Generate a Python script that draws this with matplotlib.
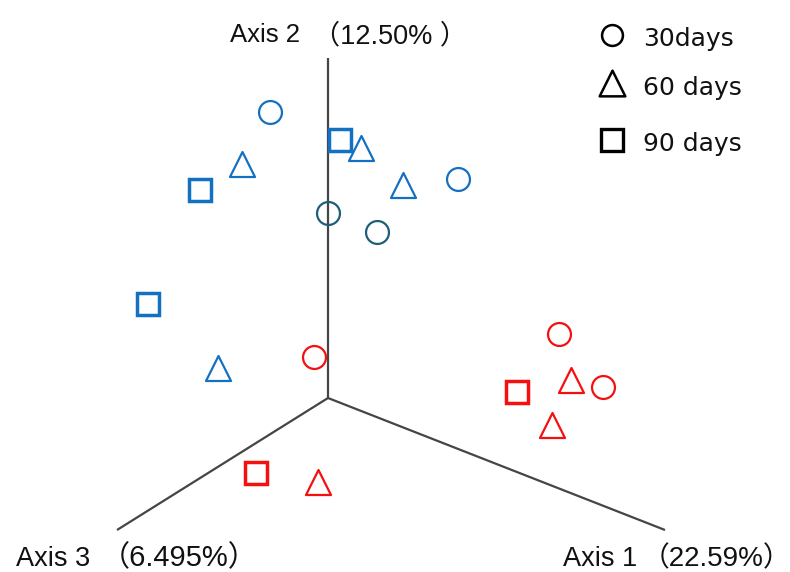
import matplotlib
matplotlib.use("Agg")
import matplotlib.pyplot as plt
from matplotlib.path import Path

# Projected ordination scores (screen-plane projection of Axis 1/2/3, origin at 0,0)
circle_blue_x = [-58, 130]
circle_blue_y = [286, 219]
circle_teal_x = [0, 49]
circle_teal_y = [185, 166]
circle_red_x = [-14, 231, 275]
circle_red_y = [41, 64, 11]

triangle_blue_x = [33, -86, 75, -110]
triangle_blue_y = [250, 234, 213, 30]
triangle_red_x = [243, 224, -10]
triangle_red_y = [18, -27, -84]

square_blue_x = [12, -128, -180]
square_blue_y = [258, 208, 94]
square_red_x = [189, -72]
square_red_y = [6, -75]

# Axis names, explained variance and end points in the projected plane
axis_names = ["Axis 1", "Axis 2", "Axis 3"]
axis_variance = ["22.59%", "12.50%", "6.495%"]
axis_end_x = [337, 0, -211]
axis_end_y = [-132, 340, -132]

legend_labels = ["30days", "60 days", "90 days"]

BLUE = "#1470c0"
TEAL = "#1d5f78"
RED = "#f50f0f"
AXIS_GREY = "#454545"
TEXT = "#111111"

W, H = 790, 572

def fx(px):
    return px / W

def fy(py):
    return 1 - py / H

tri = Path([(-0.5, -0.5), (0.5, -0.5), (0.0, 0.5), (-0.5, -0.5)],
           [Path.MOVETO, Path.LINETO, Path.LINETO, Path.CLOSEPOLY])

fig = plt.figure(figsize=(7.9, 5.72), dpi=100)
ax = fig.add_axes([0, 0, 1, 1])
ax.set_xlim(-328, 462)
ax.set_ylim(-174, 398)
ax.axis("off")

for ex, ey in zip(axis_end_x, axis_end_y):
    ax.plot([0, ex], [0, ey], color=AXIS_GREY, lw=1.6, solid_capstyle="butt", zorder=1)

def draw(xs, ys, marker, color, ms, mew):
    ax.plot(xs, ys, linestyle="none", marker=marker, ms=ms, mfc="none",
            mec=color, mew=mew, zorder=3)

draw(circle_blue_x, circle_blue_y, "o", BLUE, 16.5, 1.6)
draw(circle_teal_x, circle_teal_y, "o", TEAL, 16.5, 1.6)
draw(circle_red_x, circle_red_y, "o", RED, 16.5, 1.6)
draw(triangle_blue_x, triangle_blue_y, tri, BLUE, 18.0, 1.6)
draw(triangle_red_x, triangle_red_y, tri, RED, 18.0, 1.6)
draw(square_blue_x, square_blue_y, "s", BLUE, 16.0, 2.5)
draw(square_red_x, square_red_y, "s", RED, 16.0, 2.5)

font = ["Liberation Sans", "Noto Sans CJK JP", "DejaVu Sans"]
renderer = fig.canvas.get_renderer()


def axis_label(idx, x, y, size, size2, y2, gap, tail):
    """Axis name followed by the bracketed explained variance."""
    t1 = fig.text(fx(x), fy(y), axis_names[idx], ha="left", va="baseline",
                  fontsize=size, family=font, color=TEXT)
    x1 = t1.get_window_extent(renderer).x1
    fig.text((x1 + gap) / W, fy(y2), "\uff08" + axis_variance[idx] + tail + "\uff09",
             ha="left", va="baseline", fontsize=size2, family=font, color=TEXT)


axis_label(1, 230, 42, 18.5, 19.5, 43, 13, " ")
axis_label(2, 16, 566, 19.5, 21.0, 566, 10, "")
axis_label(0, 563, 566, 19.5, 20.0, 566, 4, "")

# Legend
leg_markers = ["o", tri, "s"]
leg_ms = [15.0, 18.5, 15.5]
leg_mew = [1.8, 1.8, 2.4]
leg_marker_y = [35, 83, 140]
leg_text_y = [46, 95, 151]
for m, ms, mew, my, ty, lab in zip(leg_markers, leg_ms, leg_mew, leg_marker_y, leg_text_y, legend_labels):
    fig.lines.append(plt.Line2D([fx(612)], [fy(my)], transform=fig.transFigure, marker=m, ms=ms,
                                mfc="none", mec="black", mew=mew, linestyle="none"))
    fig.text(fx(643), fy(ty), lab, ha="left", va="baseline", fontsize=18,
             family=["DejaVu Sans"], color=TEXT)

fig.savefig("out.png", dpi=100)
